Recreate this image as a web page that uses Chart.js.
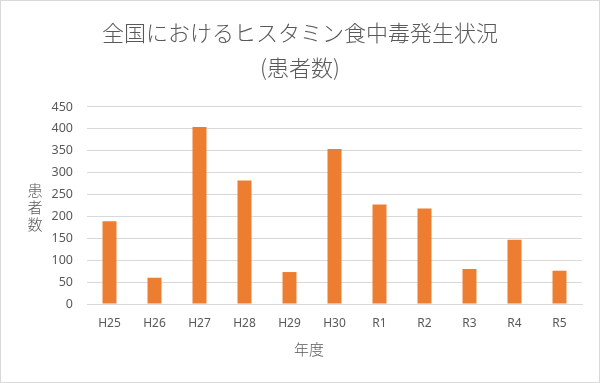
<!DOCTYPE html>
<html>
<head>
<meta charset="utf-8">
<script src="https://cdn.jsdelivr.net/npm/chart.js@4.4.1/dist/chart.umd.min.js"></script>
<style>
html,body{margin:0;padding:0;background:#fff;}
#wrap{width:600px;height:383px;position:relative;}
</style>
</head>
<body>
<div id="wrap"><canvas id="c" width="600" height="383"></canvas></div>
<script>
const categories = ['H25','H26','H27','H28','H29','H30','R1','R2','R3','R4','R5'];
const patients = [189, 60, 404, 282, 73, 354, 227, 218, 80, 147, 76];
const yTicks = [0, 50, 100, 150, 200, 250, 300, 350, 400, 450];
const titleLines = ['全国におけるヒスタミン食中毒発生状況', '(患者数)'];
const yTitleChars = ['患', '者', '数'];
const xTitle = '年度';

const textColor = '#595959';
const gridColor = '#d9d9d9';
const barColor = '#ed7d31';
const cjk = '"Noto Sans CJK JP", "Noto Sans", sans-serif';
const latin = '"Noto Sans", "Liberation Sans", sans-serif';

const extras = {
  id: 'extras',
  afterDraw(chart) {
    const ctx = chart.ctx;
    ctx.save();
    ctx.fillStyle = textColor;
    ctx.textAlign = 'center';
    ctx.textBaseline = 'middle';
    ctx.font = '300 15px ' + cjk;
    const ys = [190, 207, 224];
    yTitleChars.forEach((ch, i) => ctx.fillText(ch, 35, ys[i]));
    ctx.fillText(xTitle, 309, 349);
    ctx.strokeStyle = gridColor;
    ctx.lineWidth = 1;
    ctx.strokeRect(0.5, 0.5, 599, 382);
    ctx.restore();
  }
};

new Chart(document.getElementById('c'), {
  type: 'bar',
  data: {
    labels: categories,
    datasets: [{
      label: '患者数',
      data: patients,
      backgroundColor: barColor,
      borderWidth: 0,
      barPercentage: 0.311,
      categoryPercentage: 1
    }]
  },
  options: {
    responsive: false,
    animation: false,
    layout: { padding: 0 },
    plugins: {
      legend: { display: false },
      tooltip: { enabled: false },
      title: {
        display: true,
        text: titleLines,
        color: textColor,
        font: { family: cjk, size: 22, weight: '300', lineHeight: 1.59 },
        padding: { top: 15, bottom: 22 }
      }
    },
    scales: {
      x: {
        grid: { display: false, drawTicks: false },
        border: { display: true, color: gridColor, width: 1 },
        ticks: { color: textColor, font: { family: latin, size: 12 }, padding: 12 },
        afterFit(scale) { scale.height = 79; }
      },
      y: {
        min: 0,
        max: 450,
        afterBuildTicks(scale) { scale.ticks = yTicks.map(v => ({ value: v })); },
        grid: { color: gridColor, lineWidth: 1, drawTicks: false },
        border: { display: false },
        ticks: { color: textColor, font: { family: latin, size: 12.5 }, padding: 14 },
        afterFit(scale) { scale.width = 87; }
      },
      yr: {
        position: 'right',
        min: 0,
        max: 450,
        grid: { display: false, drawTicks: false },
        border: { display: false },
        ticks: { display: false },
        afterFit(scale) { scale.width = 18; }
      }
    }
  },
  plugins: [extras]
});
</script>
</body>
</html>
